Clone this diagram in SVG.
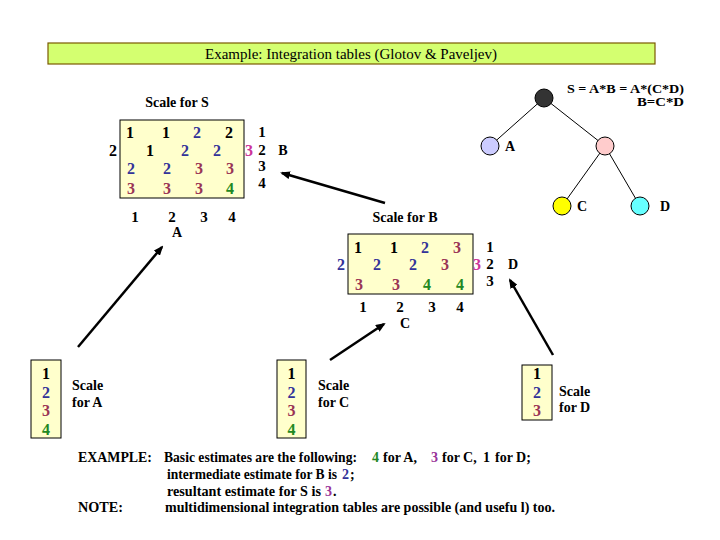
<svg xmlns="http://www.w3.org/2000/svg" width="720" height="540" viewBox="0 0 720 540" font-family="'Liberation Serif', 'Times New Roman', serif">
<style>
text{font-family:"Liberation Serif","Times New Roman",serif;fill:#000}
.n{font-size:16px;font-weight:bold;text-anchor:middle}
.s{font-size:15px;font-weight:bold;text-anchor:middle}
.l{font-size:14px;font-weight:bold}
.t{font-size:14px;font-weight:bold}
.bl{fill:#333399}.rd{fill:#993355}.mg{fill:#cc3399}.gr{fill:#228822}.pu{fill:#993399}
.box{fill:#ffffcc;stroke:#000;stroke-width:1}
.edge{stroke:#000;stroke-width:1}
.arr{stroke:#000;stroke-width:2.5;fill:none;marker-end:url(#ah)}
.node{stroke:#000;stroke-width:1}
</style>
<defs>
<marker id="ah" markerWidth="10" markerHeight="8" refX="8" refY="4" orient="auto" markerUnits="userSpaceOnUse">
<path d="M0,0 L10,4 L0,8 Z" fill="#000"/>
</marker>
</defs>
<rect width="720" height="540" fill="#fff"/>

<g id="title">
<rect x="48" y="43" width="607" height="21" fill="#d4ff70" stroke="#7a5a00" stroke-width="1.2"/>
<text x="205" y="59" font-size="14" textLength="292" lengthAdjust="spacingAndGlyphs">Example: Integration tables (Glotov &amp; Paveljev)</text>
</g>

<g id="connectors">
<line class="edge" x1="544" y1="98" x2="490" y2="146"/>
<line class="edge" x1="544" y1="98" x2="605" y2="146"/>
<line class="edge" x1="605" y1="146" x2="562" y2="206"/>
<line class="edge" x1="605" y1="146" x2="640" y2="206"/>
<line class="arr" x1="78" y1="347" x2="162" y2="247"/>
<line class="arr" x1="385" y1="203" x2="282" y2="173"/>
<line class="arr" x1="330" y1="360" x2="384" y2="324"/>
<line class="arr" x1="553" y1="355" x2="510" y2="280"/>
</g>

<g id="tree">
<text x="684" y="93" font-size="11.5" font-weight="bold" text-anchor="end" textLength="117" lengthAdjust="spacingAndGlyphs">S = A*B = A*(C*D)</text>
<text x="684" y="106" font-size="11.5" font-weight="bold" text-anchor="end" textLength="47" lengthAdjust="spacingAndGlyphs">B=C*D</text>
<g id="node-S"><circle class="node" cx="544" cy="98" r="9" fill="#333333"/></g>
<g id="node-A"><circle class="node" cx="490" cy="146" r="9" fill="#ccccff"/><text class="l" x="505" y="151">A</text></g>
<g id="node-B"><circle class="node" cx="605" cy="146" r="9" fill="#ffcccc"/></g>
<g id="node-C"><circle class="node" cx="562" cy="206" r="9" fill="#ffff00"/><text class="l" x="577" y="211">C</text></g>
<g id="node-D"><circle class="node" cx="640" cy="206" r="9" fill="#66ffff"/><text class="l" x="660" y="211">D</text></g>
</g>

<g id="scale-S">
<text class="l" x="177" y="107" text-anchor="middle">Scale for S</text>
<rect class="box" x="120" y="120" width="124" height="78"/>
<text class="n" x="130" y="137.5">1</text><text class="n" x="166" y="137.5">1</text><text class="n bl" x="197" y="137.5">2</text><text class="n" x="229" y="137.5">2</text>
<text class="n" x="113" y="155.5">2</text>
<text class="n" x="150" y="155.5">1</text><text class="n bl" x="185" y="155.5">2</text><text class="n bl" x="217" y="155.5">2</text><text class="n mg" x="249" y="155.5">3</text>
<text class="n bl" x="131" y="173.5">2</text><text class="n bl" x="167" y="173.5">2</text><text class="n rd" x="199" y="173.5">3</text><text class="n rd" x="230" y="173.5">3</text>
<text class="n rd" x="131" y="194">3</text><text class="n rd" x="167" y="194">3</text><text class="n rd" x="199" y="194">3</text><text class="n gr" x="230" y="194">4</text>
<text class="s" x="262" y="137">1</text><text class="s" x="262" y="155">2</text><text class="s" x="262" y="171">3</text><text class="s" x="262" y="188">4</text>
<text class="l" x="283" y="155" text-anchor="middle">B</text>
<text class="s" x="135" y="222">1</text><text class="s" x="172" y="222">2</text><text class="s" x="204" y="222">3</text><text class="s" x="232" y="222">4</text>
<text class="l" x="177" y="237" text-anchor="middle">A</text>
</g>

<g id="scale-B">
<text class="l" x="405" y="222" text-anchor="middle">Scale for B</text>
<rect class="box" x="348" y="234" width="125" height="60"/>
<text class="n" x="358" y="252.5">1</text><text class="n" x="394" y="252.5">1</text><text class="n bl" x="425" y="252.5">2</text><text class="n rd" x="457" y="252.5">3</text>
<text class="n bl" x="341" y="269.5">2</text>
<text class="n bl" x="377" y="269.5">2</text><text class="n bl" x="413" y="269.5">2</text><text class="n rd" x="445" y="269.5">3</text><text class="n mg" x="477" y="269.5">3</text>
<text class="n rd" x="359" y="289.5">3</text><text class="n rd" x="396" y="289.5">3</text><text class="n gr" x="427" y="289.5">4</text><text class="n gr" x="460" y="289.5">4</text>
<text class="s" x="490" y="252">1</text><text class="s" x="490" y="269">2</text><text class="s" x="490" y="286">3</text>
<text class="l" x="513" y="269" text-anchor="middle">D</text>
<text class="s" x="363" y="312">1</text><text class="s" x="400" y="312">2</text><text class="s" x="432" y="312">3</text><text class="s" x="460" y="312">4</text>
<text class="l" x="405" y="328" text-anchor="middle">C</text>
</g>

<g id="scale-A">
<rect class="box" x="31" y="360" width="30" height="78"/>
<text class="n" x="46" y="378.5">1</text><text class="n bl" x="46" y="397.5">2</text><text class="n rd" x="46" y="415.5">3</text><text class="n gr" x="46" y="434.5">4</text>
<text class="l" x="72" y="390">Scale</text><text class="l" x="72" y="407">for A</text>
</g>

<g id="scale-C">
<rect class="box" x="277" y="360" width="29" height="78"/>
<text class="n" x="291.5" y="378.5">1</text><text class="n bl" x="291.5" y="397.5">2</text><text class="n rd" x="291.5" y="415.5">3</text><text class="n gr" x="291.5" y="434.5">4</text>
<text class="l" x="318" y="390">Scale</text><text class="l" x="318" y="407">for C</text>
</g>

<g id="scale-D">
<rect class="box" x="522" y="365" width="30" height="55"/>
<text class="n" x="537" y="378.5">1</text><text class="n bl" x="537" y="397.5">2</text><text class="n rd" x="537" y="415.5">3</text>
<text class="l" x="559" y="396">Scale</text><text class="l" x="559" y="412">for D</text>
</g>

<g id="notes">
<text class="t" x="78" y="462" textLength="74" lengthAdjust="spacingAndGlyphs">EXAMPLE:</text>
<text class="t" x="164" y="462" textLength="193" lengthAdjust="spacingAndGlyphs">Basic estimates are the following:</text>
<text class="t gr" x="372" y="462">4</text>
<text class="t" x="383" y="462">for A,</text>
<text class="t pu" x="431" y="462">3</text>
<text class="t" x="442" y="462">for C,</text>
<text class="t" x="483" y="462">1</text>
<text class="t" x="495" y="462">for D;</text>
<text class="t" x="167" y="479" textLength="170" lengthAdjust="spacingAndGlyphs">intermediate estimate for B is</text>
<text class="t bl" x="342" y="479">2</text><text class="t" x="350" y="479">;</text>
<text class="t" x="167" y="496" textLength="154" lengthAdjust="spacingAndGlyphs">resultant estimate for S is</text>
<text class="t pu" x="325" y="496">3</text><text class="t" x="333" y="496">.</text>
<text class="t" x="78" y="512" textLength="45" lengthAdjust="spacingAndGlyphs">NOTE:</text>
<text class="t" x="165" y="512" textLength="390" lengthAdjust="spacingAndGlyphs">multidimensional integration tables are possible (and usefu l) too.</text>
</g>
</svg>
